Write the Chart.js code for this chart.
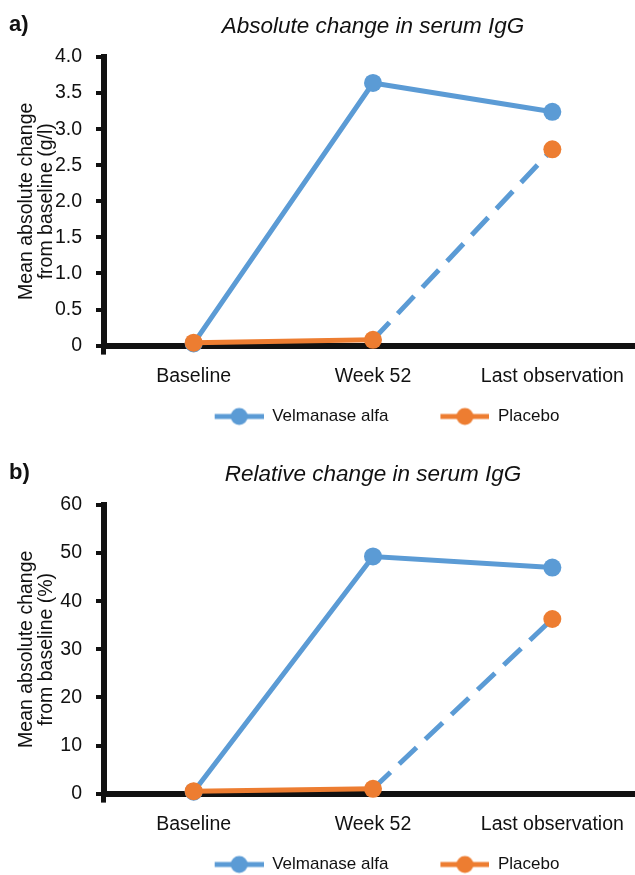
<!DOCTYPE html>
<html>
<head>
<meta charset="utf-8">
<script src="https://cdn.jsdelivr.net/npm/chart.js@4.4.1/dist/chart.umd.min.js"></script>
<style>
    html, body { margin: 0; padding: 0; background: #fff; overflow: hidden; }
    /* a little wider than the window: the x axis runs off the right edge */
    .panel { position: relative; width: 642px; height: 448px; }
    .panel-label { position: absolute; left: 9px; top: 11px; line-height: 26px; font: bold 22px "Liberation Sans", Arial, sans-serif; color: #111; }
</style>
</head>
<body>
<div class="panel">
    <div class="panel-label">a)</div>
    <canvas id="chartA"></canvas>
</div>
<div class="panel">
    <div class="panel-label">b)</div>
    <canvas id="chartB"></canvas>
</div>
<script>
// Values
const categories = ['Baseline', 'Week 52', 'Last observation'];
const seriesNames = ['Velmanase alfa', 'Placebo'];

const absVelmanase = [0.03, 3.64, 3.24];
const absPlacebo = [0.04, 0.08, 2.72];

const relVelmanase = [0.4, 49.3, 47.0];
const relPlacebo = [0.5, 1.0, 36.3];

const blue = '#5B9BD5';
const orange = '#ED7D31';
const ink = '#111';
const font = '"Liberation Sans", Arial, sans-serif';

// Legend marker: a short line with a circle in the middle,
// with some empty room on the left to space the two entries apart
const markerGap = 42;
const makeMarker = (color) => {
    const c = document.createElement('canvas');
    c.width = markerGap + 49;
    c.height = 20;
    const ctx = c.getContext('2d');
    ctx.strokeStyle = color;
    ctx.lineWidth = 5;
    ctx.beginPath();
    ctx.moveTo(markerGap, 10);
    ctx.lineTo(markerGap + 49, 10);
    ctx.stroke();
    ctx.fillStyle = color;
    ctx.beginPath();
    ctx.arc(markerGap + 24.5, 10, 8.5, 0, Math.PI * 2);
    ctx.fill();
    return c;
};
const markers = [makeMarker(blue), makeMarker(orange)];

// pull the legend back a little, it sits left of the plot centre
const legendNudge = {
    id: 'legendNudge',
    afterLayout(chart) {
        chart.legend.left -= 7;
        chart.legend.right -= 7;
    }
};

const makeChart = (canvasId, title, yTitle, velmanase, placebo, yMax, yStep, tickFormat) => {
    const data = {
        labels: categories,
        datasets: [
            {
                label: seriesNames[0],
                data: velmanase,
                borderColor: blue,
                backgroundColor: blue,
                borderWidth: 5,
                pointRadius: 9,
                pointHoverRadius: 9,
                pointBorderWidth: 0,
                order: 2,
                clip: false
            },
            {
                label: seriesNames[1],
                data: placebo,
                borderColor: orange,
                backgroundColor: orange,
                borderWidth: 5,
                pointRadius: 9,
                pointHoverRadius: 9,
                pointBorderWidth: 0,
                order: 1,
                clip: false,
                // the Week 52 -> Last observation piece is blue and dashed
                segment: {
                    borderColor: ctx => ctx.p0DataIndex === 1 ? blue : undefined,
                    borderDash: ctx => ctx.p0DataIndex === 1 ? [24, 12] : undefined
                }
            }
        ]
    };

    const config = {
        type: 'line',
        data: data,
        plugins: [legendNudge],
        options: {
            responsive: true,
            maintainAspectRatio: false,
            animation: false,
            layout: {
                autoPadding: false,
                padding: { left: 12, right: 0, top: 4, bottom: 13 }
            },
            plugins: {
                tooltip: { enabled: false },
                title: {
                    display: true,
                    text: title,
                    fullSize: false,
                    color: ink,
                    font: { family: font, size: 22.5, style: 'italic', weight: 'normal', lineHeight: 1.2 },
                    padding: { top: 9, bottom: 17 }
                },
                legend: {
                    position: 'bottom',
                    fullSize: false,
                    labels: {
                        usePointStyle: true,
                        pointStyleWidth: markerGap + 49,
                        boxHeight: 20,
                        padding: 10,
                        color: ink,
                        font: { family: font, size: 17 },
                        generateLabels: () => seriesNames.map((name, i) => ({
                            text: name,
                            pointStyle: markers[i],
                            fillStyle: 'transparent',
                            strokeStyle: 'transparent',
                            lineWidth: 0,
                            fontColor: ink,
                            datasetIndex: i
                        }))
                    }
                }
            },
            scales: {
                x: {
                    offset: true,
                    // no extra room for the end labels, they fit inside their slots
                    afterFit: scale => { scale.paddingLeft = 0; scale.paddingRight = 0; },
                    border: { display: true, color: ink, width: 6 },
                    grid: {
                        display: true,
                        offset: true,
                        drawOnChartArea: false,
                        tickLength: 9,
                        lineWidth: 5,
                        // only the left end, where the y axis pokes below the x axis
                        color: ctx => ctx.index === 0 ? ink : 'rgba(0,0,0,0)'
                    },
                    ticks: {
                        color: ink,
                        padding: 10,
                        font: { family: font, size: 19.5 },
                        maxRotation: 0
                    }
                },
                y: {
                    min: 0,
                    max: yMax,
                    afterFit: scale => { scale.width = 92; },
                    border: { display: true, color: ink, width: 6 },
                    grid: {
                        display: true,
                        drawOnChartArea: false,
                        tickLength: 8,
                        lineWidth: 4,
                        color: ink
                    },
                    ticks: {
                        stepSize: yStep,
                        color: ink,
                        padding: 14,
                        font: { family: font, size: 19.5 },
                        callback: tickFormat
                    },
                    title: {
                        display: true,
                        text: yTitle,
                        color: ink,
                        font: { family: font, size: 19.5, lineHeight: 1.02 },
                        padding: { top: 5, bottom: 0 }
                    }
                }
            }
        }
    };

    return new Chart(document.getElementById(canvasId), config);
};

makeChart('chartA', 'Absolute change in serum IgG',
    ['Mean absolute change', 'from baseline (g/l)'],
    absVelmanase, absPlacebo, 4, 0.5,
    v => v === 0 ? '0' : v.toFixed(1));

makeChart('chartB', 'Relative change in serum IgG',
    ['Mean absolute change', 'from baseline (%)'],
    relVelmanase, relPlacebo, 60, 10,
    v => String(v));
</script>
</body>
</html>
